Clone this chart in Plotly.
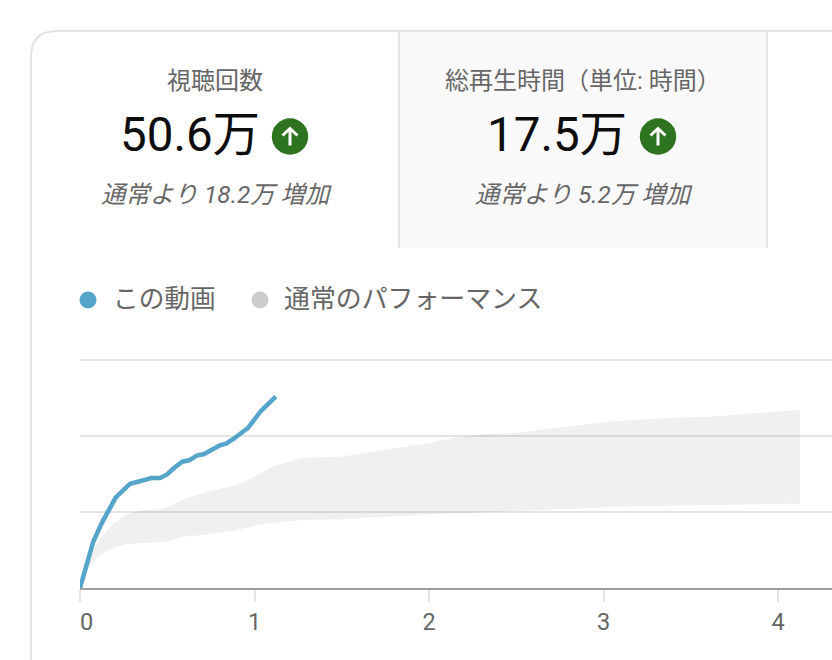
import plotly.graph_objects as go

# --- data (x in tick units, y in gridline units) ---
video_x = [0, .076, .124, .205, .287, .354, .411, .458, .497, .544, .586, .625, .669, .711, .760, .802, .837, .879, .964, 1.037, 1.122]
video_y = [0, .609, .851, 1.193, 1.372, 1.408, 1.447, 1.447, 1.491, 1.588, 1.662, 1.68, 1.741, 1.763, 1.833, 1.878, 1.899, 1.961, 2.109, 2.329, 2.517]
upper_x = [0, .077, .133, .191, .267, .344, .439, .506, .592, .745, .898, .993, 1.108, 1.207, 1.267, 1.490, 1.751, 1.995, 2.155, 2.316, 2.518, 2.680, 3.063, 3.364, 3.608, 4.126]
upper_y = [0, .5, .697, .851, .97, 1.017, 1.036, 1.07, 1.167, 1.276, 1.355, 1.457, 1.605, 1.675, 1.711, 1.728, 1.816, 1.904, 1.983, 2.026, 2.043, 2.096, 2.193, 2.237, 2.254, 2.346]
lower_x = [0, .058, .114, .172, .267, .382, .497, .592, .707, .879, 1.012, 1.128, 1.261, 1.509, 1.751, 2.054, 2.355, 2.760, 3.164, 3.567, 4.126]
lower_y = [0, .303, .434, .509, .579, .592, .609, .675, .697, .754, .825, .864, .891, .904, .938, .974, 1.004, 1.036, 1.075, 1.088, 1.109]
tick_vals = [0, 1, 2, 3, 4]
tick_text = ["\u20070", "1", "2", "3", "4"]
grid_vals = [1, 2, 3]
series_names = ["この動画", "通常のパフォーマンス"]
tab_titles = ["視聴回数", "総再生時間（単位: 時間）"]
tab_values = ["50.6万", "17.5万"]
tab_notes = ["通常より 18.2万 増加", "通常より 5.2万 増加"]

W, H = 832, 660
FONT = "Roboto, 'Noto Sans CJK JP', sans-serif"
GREY = "#666666"
LINE = "#e4e4e4"
Y_TOP = 3.05


def px(x):
    return x / W


def py(y):
    return 1 - y / H


def P(*pts):
    return " ".join(f"{c}{px(x):.5f},{py(y):.5f}" for c, x, y in pts)


fig = go.Figure()
fig.add_trace(go.Scatter(
    x=upper_x + lower_x[::-1], y=upper_y + lower_y[::-1],
    mode="lines", fill="toself", fillcolor="rgba(0,0,0,0.06)",
    line=dict(width=0), hoverinfo="skip", name=series_names[1], cliponaxis=False,
))
fig.add_trace(go.Scatter(
    x=video_x, y=video_y, mode="lines",
    line=dict(color="#55a4c9", width=4.5), name=series_names[0], cliponaxis=False,
))

shapes = []


def rect(x0, y0, x1, y1, fill):
    shapes.append(dict(type="rect", xref="paper", yref="paper", x0=px(x0), x1=px(x1),
                       y0=py(y1), y1=py(y0), fillcolor=fill, line_width=0, layer="below"))


def seg(x0, y0, x1, y1, color=LINE, width=2):
    shapes.append(dict(type="line", xref="paper", yref="paper", x0=px(x0), x1=px(x1),
                       y0=py(y0), y1=py(y1), line=dict(color=color, width=width), layer="below"))


def circle(cx, cy, r, fill):
    shapes.append(dict(type="circle", xref="paper", yref="paper", x0=px(cx - r), x1=px(cx + r),
                       y0=py(cy + r), y1=py(cy - r), fillcolor=fill, line_width=0, layer="above"))


# card: second tab background, separators, rounded border
rect(400, 32, 767, 248, "#f9f9f9")
seg(399, 31, 399, 248)
seg(767, 31, 767, 248)
corner = P(("M", 31, 660), ("L", 31, 57))
corner += f" Q{px(31):.5f},{py(31):.5f} {px(57):.5f},{py(31):.5f} " + P(("L", 832, 31))
shapes.append(dict(type="path", xref="paper", yref="paper", path=corner,
                   line=dict(color=LINE, width=2), layer="below"))

# up-arrow badges
for cx in (290, 658):
    circle(cx, 136.5, 18.2, "#2e7420")
    shapes.append(dict(type="path", xref="paper", yref="paper", layer="above",
                       path=P(("M", cx, 145.5), ("L", cx, 128.5)),
                       line=dict(color="white", width=3)))
    shapes.append(dict(type="path", xref="paper", yref="paper", layer="above",
                       path=P(("M", cx - 7.5, 135.5), ("L", cx, 128.5), ("L", cx + 7.5, 135.5)),
                       line=dict(color="white", width=3)))

# legend dots
circle(88, 300, 8.5, "#55a4c9")
circle(260, 300, 8.5, "#cccccc")

ann = []


def text(s, x, y, size, color=GREY, anchor="center", **kw):
    ann.append(dict(text=s, x=px(x), y=py(y), xref="paper", yref="paper", xanchor=anchor,
                    yanchor="middle", showarrow=False,
                    font=dict(family=FONT, size=size, color=color, **kw)))


text(tab_titles[0], 215, 81, 24)
text(tab_values[0], 189.5, 135, 47.5, "#0d0d0d")
text(tab_notes[0], 216, 195, 24.4, style="italic")
text(tab_titles[1], 583, 81, 24)
text(tab_values[1], 557, 135, 47.5, "#0d0d0d")
text(tab_notes[1], 584, 195, 24.4, style="italic")
text(series_names[0], 111, 299, 25.7, anchor="left")
text(series_names[1], 282, 299, 25.9, anchor="left")

fig.update_layout(
    width=W, height=H, margin=dict(l=0, r=0, t=0, b=0, autoexpand=False),
    paper_bgcolor="white", plot_bgcolor="rgba(0,0,0,0)", showlegend=False,
    font=dict(family=FONT),
    shapes=shapes, annotations=ann,
    xaxis=dict(domain=[px(80), 1], range=[0, 752 / 174.5], tickmode="array",
               tickvals=tick_vals, ticktext=tick_text, showgrid=False, zeroline=False,
               ticks="outside", ticklen=12, tickwidth=2, tickcolor=LINE,
               showline=True, linecolor="#9e9e9e", linewidth=2, automargin=False,
               tickfont=dict(family=FONT, size=23.5, color=GREY), fixedrange=True),
    yaxis=dict(domain=[py(588), py(588 - 76 * Y_TOP)], range=[0, Y_TOP], tickmode="array",
               tickvals=grid_vals,
               showticklabels=False, showgrid=True, gridcolor=LINE, gridwidth=2,
               zeroline=False, showline=False, ticks="", fixedrange=True),
)

fig.write_html("out.html", config={"displayModeBar": False},
               post_script="document.body.style.margin='0';document.body.style.overflow='hidden';")
